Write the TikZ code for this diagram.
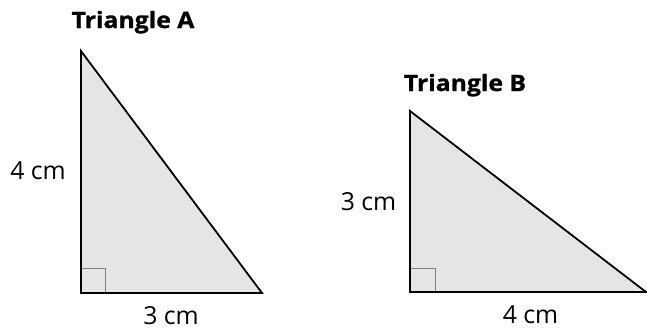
\documentclass[tikz,border=0pt]{standalone}
\usepackage{fontspec}
\setmainfont{Open Sans}
\newfontfamily\titlefont{Open Sans}[FakeStretch=1.1,FakeBold=1.2]
\begin{document}
\begin{tikzpicture}[x=1pt,y=-1pt,
  tri/.style={draw=black,line width=1.8pt,fill=black!10,line join=miter},
  rtmark/.style={draw=black!50,line width=1pt},
  title/.style={font=\titlefont\fontsize{22.5}{26}\selectfont\bfseries,inner sep=0pt,anchor=base},
  lbl/.style={font=\fontsize{24.8}{28}\selectfont,inner sep=0pt,anchor=base}]
\useasboundingbox (0,0) rectangle (647,332);
% Triangle A
\coordinate (At) at (81,51);
\coordinate (Ab) at (81,293);
\coordinate (Ar) at (262,293);
\path[tri] (At) -- (Ab) -- (Ar) -- cycle;
\draw[rtmark] (81,268) -- (105,268) -- (105,293);
\draw[line width=1.8pt] (At) -- (Ab) -- (Ar);
\node[title] (tA) at (133,28) {Triangle A};
\node[lbl] (hA) at (38,179) {4 cm};
\node[lbl] (bA) at (171,324) {3 cm};
% Triangle B
\coordinate (Bt) at (410,111);
\coordinate (Bb) at (410,292);
\coordinate (Br) at (646,292);
\path[tri] (Bt) -- (Bb) -- (Br) -- cycle;
\draw[rtmark] (410,268) -- (435,268) -- (435,292);
\draw[line width=1.8pt] (Bt) -- (Bb) -- (Br);
\node[title] (tB) at (465,91) {Triangle B};
\node[lbl] (hB) at (368.5,210) {3 cm};
\node[lbl] (bB) at (530.5,323) {4 cm};
\end{tikzpicture}
\end{document}
